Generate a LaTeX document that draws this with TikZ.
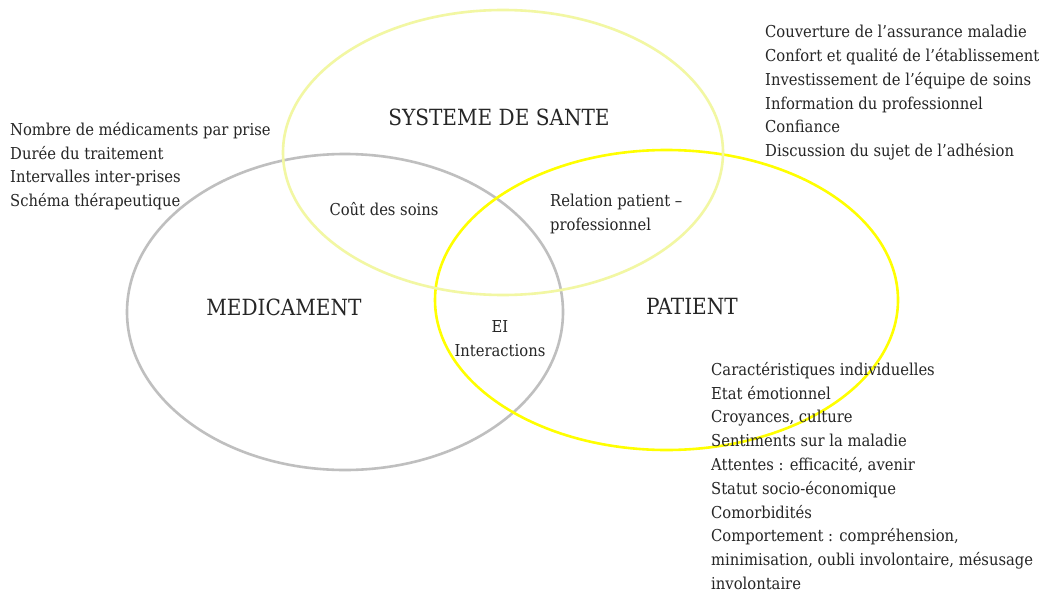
\documentclass[tikz,border=0pt]{standalone}
\usepackage{fontspec}
\setmainfont{DejaVu Serif Condensed}
\definecolor{txt}{HTML}{262626}
\definecolor{paleyel}{HTML}{F2F7A3}
\definecolor{brightyel}{HTML}{FFFF00}
\definecolor{greyline}{HTML}{BFBFBF}
\begin{document}
\begin{tikzpicture}[x=1pt,y=-1pt,
  ring/.style={line width=2.6pt},
  small/.style={text=txt,font=\fontsize{16.4}{23.8}\selectfont,inner sep=0pt},
  big/.style={text=txt,font=\fontsize{22.3}{24}\selectfont,inner sep=0pt},
  listtxt/.style={small,align=left,anchor=north west}]
\useasboundingbox (0,0) rectangle (1043,594);
\fill[white] (0,0) rectangle (1043,594);
\draw[ring,greyline] (345,312) ellipse [x radius=218, y radius=158];
\draw[ring,brightyel] (666.5,300) ellipse [x radius=231.5, y radius=150];
\draw[ring,paleyel] (503,152.5) ellipse [x radius=220, y radius=142.5];
\node[big] (sys) at (499,117) {SYSTEME DE SANTE};
\node[big] (med) at (284,307) {MEDICAMENT};
\node[big] (pat) at (692,307) {PATIENT};
\node[small] (cout) at (384,209) {Coût des soins};
\node[small,align=left,anchor=west] (rel) at (550,214) {Relation patient –\\professionnel};
\node[small,align=center] (ei) at (500,339) {EI\\Interactions};
\node[listtxt] (lmed) at (10,122) {Nombre de médicaments par prise\\Durée du traitement\\Intervalles inter-prises\\Schéma thérapeutique};
\node[listtxt] (lsys) at (765,25) {Couverture de l’assurance maladie\\Confort et qualité de l’établissement\\Investissement de l’équipe de soins\\Information du professionnel\\Confiance\\Discussion du sujet de l’adhésion};
\node[listtxt] (lpat) at (711,362) {Caractéristiques individuelles\\Etat émotionnel\\Croyances, culture\\Sentiments sur la maladie\\Attentes : efficacité, avenir\\Statut socio-économique\\Comorbidités\\Comportement : compréhension,\\minimisation, oubli involontaire, mésusage\\involontaire};
\end{tikzpicture}
\end{document}
